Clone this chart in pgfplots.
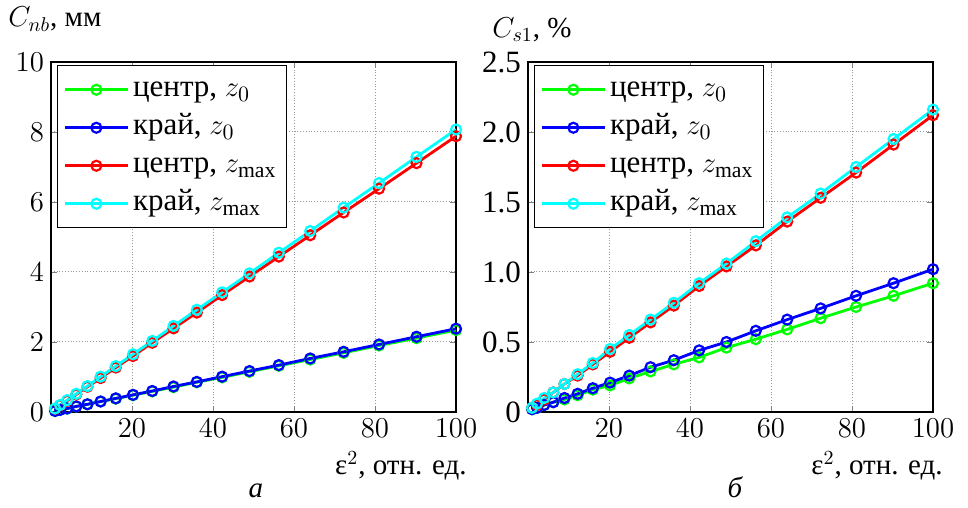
\documentclass[border=0pt]{standalone}
\usepackage{fontspec}
\setmainfont{Liberation Serif}
\usepackage{pgfplots}
\pgfplotsset{compat=1.18}

\definecolor{cG}{RGB}{0,255,0}
\definecolor{cB}{RGB}{0,0,255}
\definecolor{cR}{RGB}{255,0,0}
\definecolor{cC}{RGB}{0,255,255}

% eps^2 grid: eps = 1, 1.5, ..., 10
\pgfplotstableread{
x      gz    bz    rz    cz
1      0.03  0.03  0.09  0.10
2.25   0.06  0.06  0.19  0.20
4      0.10  0.10  0.32  0.34
6.25   0.16  0.16  0.50  0.52
9      0.22  0.22  0.72  0.74
12.25  0.30  0.30  0.97  1.01
16     0.38  0.39  1.27  1.31
20.25  0.48  0.49  1.60  1.65
25     0.59  0.60  1.98  2.03
30.25  0.71  0.73  2.39  2.46
36     0.85  0.86  2.84  2.92
42.25  0.99  1.01  3.34  3.42
49     1.15  1.17  3.87  3.96
56.25  1.32  1.34  4.44  4.55
64     1.50  1.53  5.05  5.17
72.25  1.69  1.72  5.70  5.84
81     1.90  1.93  6.38  6.54
90.25  2.11  2.15  7.11  7.29
100    2.34  2.38  7.88  8.07
}\tnb

\pgfplotstableread{
x      gz    bz    rz    cz
1      0.02  0.02  0.03  0.03
2.25   0.03  0.03  0.05  0.06
4      0.05  0.05  0.09  0.10
6.25   0.07  0.07  0.14  0.14
9      0.09  0.10  0.20  0.20
12.25  0.12  0.13  0.26  0.27
16     0.16  0.17  0.34  0.35
20.25  0.19  0.21  0.43  0.45
25     0.24  0.26  0.53  0.55
30.25  0.29  0.32  0.64  0.66
36     0.34  0.37  0.76  0.78
42.25  0.39  0.44  0.90  0.92
49     0.46  0.50  1.04  1.06
56.25  0.52  0.58  1.19  1.22
64     0.59  0.66  1.36  1.39
72.25  0.67  0.74  1.53  1.56
81     0.75  0.83  1.71  1.75
90.25  0.83  0.92  1.91  1.95
100    0.92  1.02  2.12  2.16
}\tsone

\pgfplotsset{
  panel/.style={
    width=202.5pt, height=175pt, scale only axis, clip=false,
    xmin=0, xmax=100, xtick={20,40,60,80,100},
    grid=major, grid style={densely dotted, gray!80, line width=0.5pt},
    tick align=inside, major tick length=3pt,
    axis line style={line width=0.6pt},
    every axis/.append style={font=\fontsize{14.5}{17}\selectfont},
    tick label style={font=\fontsize{15.5}{17}\selectfont},
    legend style={at={(0.015,0.991)}, anchor=north west,
      font=\fontsize{15.5}{17}\selectfont, draw=black, line width=0.6pt,
      inner xsep=3pt, inner ysep=3pt, row sep=1pt,
      nodes={text height=10.5pt, text depth=3.5pt}},
    legend cell align=left,
    legend image code/.code={%
      \draw[mark repeat=2,mark phase=2] plot coordinates {(0cm,0cm) (0.55cm,0cm) (1.1cm,0cm)};},
    every axis plot/.append style={line width=1.4pt, mark=o, mark size=2.5pt,
      mark options={line width=1.1pt}},
  },
}

\begin{document}
\begin{tikzpicture}
\begin{axis}[panel, name=L, ymin=0, ymax=10, ytick={0,2,4,6,8,10}]
\addplot[cG] table[x=x,y=gz] {\tnb};
\addplot[cB] table[x=x,y=bz] {\tnb};
\addplot[cR] table[x=x,y=rz] {\tnb};
\addplot[cC] table[x=x,y=cz] {\tnb};
\legend{{центр, $z_0$}, {край, $z_0$}, {центр, $z_{\max}$}, {край, $z_{\max}$}}
\node[anchor=base west, inner sep=0pt] at (rel axis cs:-0.106,1.10) {$C_{nb}$, мм};
\node[anchor=base east, inner sep=0pt] at (rel axis cs:1.027,-0.18) {ε$^{2}$, отн. ед.};
\node[anchor=base, inner sep=0pt] at (rel axis cs:0.506,-0.243) {\itshape а};
\end{axis}

\begin{axis}[panel, name=R, xshift=238.5pt, ymin=0, ymax=2.5,
  ytick={0,0.5,1,1.5,2,2.5}, yticklabels={0,0.5,1.0,1.5,2.0,2.5}]
\addplot[cG] table[x=x,y=gz] {\tsone};
\addplot[cB] table[x=x,y=bz] {\tsone};
\addplot[cR] table[x=x,y=rz] {\tsone};
\addplot[cC] table[x=x,y=cz] {\tsone};
\legend{{центр, $z_0$}, {край, $z_0$}, {центр, $z_{\max}$}, {край, $z_{\max}$}}
\node[anchor=base west, inner sep=0pt] at (rel axis cs:-0.089,1.071) {$C_{s1}$, \%};
\node[anchor=base east, inner sep=0pt] at (rel axis cs:1.025,-0.18) {ε$^{2}$, отн. ед.};
\node[anchor=base, inner sep=0pt] at (rel axis cs:0.511,-0.243) {\itshape б};
\end{axis}
\pgfresetboundingbox
\path (L.south west) ++(-25.5pt,-48pt) rectangle ++(484pt,254pt);
\end{tikzpicture}
\end{document}
